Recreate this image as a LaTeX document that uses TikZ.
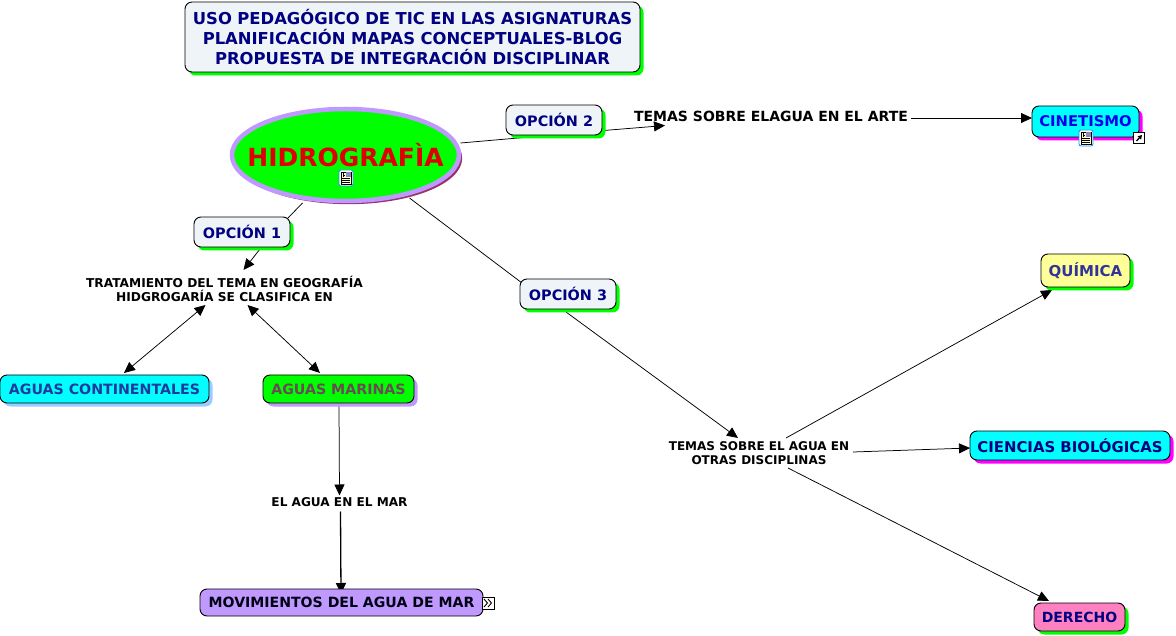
\documentclass[tikz,border=0pt]{standalone}
\usepackage{fontspec}
\setmainfont{DejaVu Sans}
\usetikzlibrary{arrows.meta,shapes.geometric,shadows,backgrounds}
\definecolor{navyt}{HTML}{000080}
\definecolor{boxbg}{HTML}{EEF4F8}
\definecolor{lime}{HTML}{00FF00}
\definecolor{cyanb}{HTML}{00FFFF}
\definecolor{magb}{HTML}{FF00FF}
\definecolor{lilac}{HTML}{C099FF}
\definecolor{skys}{HTML}{99CCFF}
\definecolor{acblue}{HTML}{1F3A9E}
\definecolor{ambrown}{HTML}{6B4A55}
\definecolor{quiblue}{HTML}{333399}
\definecolor{ciblue}{HTML}{0000EE}
\definecolor{hidsh}{HTML}{99336E}
\definecolor{hidred}{HTML}{E00000}
\definecolor{pinkb}{HTML}{FF80C0}
\definecolor{yelb}{HTML}{FFFF99}
\newcommand{\fs}[2]{\fontsize{#1}{#2}\selectfont\bfseries}
\tikzset{
  x=1pt,y=-1pt,
  boxn/.style={draw=black,line width=0.9pt,rounded corners=7pt,inner sep=0pt,align=center,
    font=\fs{14.2}{17}},
  shad/.style={drop shadow={shadow xshift=3.5pt,shadow yshift=-3.5pt,fill=#1,opacity=1}},
  phrase/.style={inner sep=0pt,align=center,text=black},
  conn/.style={line width=0.75pt,draw=black},
  arr/.style={conn,-{Triangle[length=11pt,width=10pt]}},
  barr/.style={conn,{Triangle[length=11pt,width=10pt]}-{Triangle[length=11pt,width=10pt]}},
  pics/docicon/.style={code={
    \draw[draw=blue!40!cyan!80!gray,fill=white,line width=0.8pt,rounded corners=2pt] (-7,-8) rectangle (7,8);
    \draw[black,fill=yelb!50!white,line width=0.6pt] (-5,-6) rectangle (5,6);
    \fill[blue!30!gray!70] (0,-5.5) rectangle (4.5,-1);
    \draw[black,line width=0.6pt] (-4,0) -- (4,0) (-4,2) -- (4,2) (-4,4) -- (4,4) (-3,-5)--(-3,-1) (-3,-3)--(-1,-3);
  }},
  pics/linkicon/.style={code={
    \draw[black,fill=white,line width=0.9pt] (-5.5,-5.5) rectangle (5.5,5.5);
    \draw[black,line width=1.3pt,-{Triangle[length=4pt,width=4.5pt]}] (-2.5,3) -- (3,-3);
  }},
  pics/moreicon/.style={code={
    \draw[black,fill=white,line width=0.7pt] (-6,-6) rectangle (6,6);
    \draw[black,line width=0.9pt] (-4,-4) -- (-0.5,0) -- (-4,4) (0,-4) -- (3.5,0) -- (0,4);
  }},
}
\begin{document}
\begin{tikzpicture}
\useasboundingbox (0,0) rectangle (1176,636);
\node[boxn,shad=lime,fill=boxbg,text=navyt,minimum width=455pt,minimum height=70pt,font=\fs{16.4}{20.2},
  text width=455pt] (title) at (412.5,37) {USO PEDAGÓGICO DE TIC EN LAS ASIGNATURAS\\PLANIFICACIÓN MAPAS CONCEPTUALES-BLOG\\PROPUESTA DE INTEGRACIÓN DISCIPLINAR};

\node[ellipse,draw=lilac,line width=4.5pt,fill=lime,inner sep=0pt,minimum width=227pt,minimum height=92pt,
  drop shadow={shadow xshift=3.2pt,shadow yshift=-3.2pt,fill=hidsh,opacity=1},
  text=hidred,font=\fs{25}{30}] (hid) at (345.5,155) {\makebox[0pt][c]{HIDROGRAFÌA}};
\pic at (346,178) {docicon};

\node[boxn,shad=lime,fill=boxbg,text=navyt,minimum width=96pt,minimum height=30pt,font=\fs{14.4}{17}] (op2) at (554,120) {OPCIÓN 2};
\node[boxn,shad=lime,fill=boxbg,text=navyt,minimum width=96pt,minimum height=30pt,font=\fs{14.4}{17}] (op1) at (242,232) {OPCIÓN 1};
\node[boxn,shad=lime,fill=boxbg,text=navyt,minimum width=96pt,minimum height=30pt,font=\fs{14.4}{17}] (op3) at (568,294) {OPCIÓN 3};

\node[phrase,font=\fs{14}{17}] (t2) at (771,116.5) {TEMAS SOBRE ELAGUA EN EL ARTE};
\node[phrase,font=\fs{12.2}{14}] (trat) at (224.5,289) {TRATAMIENTO DEL TEMA EN GEOGRAFÍA\\HIDGROGARÍA SE CLASIFICA EN};
\node[phrase,font=\fs{12}{14}] (t3) at (759,453) {TEMAS SOBRE EL AGUA EN\\OTRAS DISCIPLINAS};
\node[phrase,font=\fs{12.1}{14}] (agua) at (339.5,502.5) {EL AGUA EN EL MAR};

\node[boxn,shad=skys,fill=cyanb,text=acblue,minimum width=209pt,minimum height=28pt] (ac) at (104.5,389) {AGUAS CONTINENTALES};
\node[boxn,shad=lilac,fill=lime,text=ambrown,minimum width=151pt,minimum height=28pt] (am) at (338.5,389) {AGUAS MARINAS};
\node[boxn,fill=lilac,text=black!85!navyt,minimum width=283pt,minimum height=27pt,font=\fs{14.1}{17}] (mov) at (341.5,602.5) {MOVIMIENTOS DEL AGUA DE MAR};
\pic at (488,603) {moreicon};

\node[boxn,shad=magb,fill=cyanb,text=ciblue,minimum width=107pt,minimum height=31pt,font=\fs{14.8}{17}] (cin) at (1085.5,121.5) {CINETISMO};
\pic at (1086,138) {docicon};
\pic at (1139,138) {linkicon};
\node[boxn,shad=lime,fill=yelb,text=quiblue,minimum width=89pt,minimum height=33pt,font=\fs{15}{17}] (qui) at (1085.5,270.5) {QUÍMICA};
\node[boxn,shad=magb,fill=cyanb,text=navyt,minimum width=200pt,minimum height=29pt,font=\fs{14.9}{17}] (cie) at (1070,445.5) {CIENCIAS BIOLÓGICAS};
\node[boxn,shad=lime,fill=pinkb,text=navyt,minimum width=91pt,minimum height=28pt,font=\fs{14}{17}] (der) at (1079.5,617) {DERECHO};

\begin{scope}[on background layer]
\draw[conn] ([shift={(-43,48)}]hid.center) -- ([shift={(46,-14)}]op1.center);
\draw[arr] ([shift={(18,17)}]op1.center) -- ([shift={(19,-19)}]trat.center);
\draw[barr] ([shift={(-19,16)}]trat.center) -- ([shift={(19.5,-16)}]ac.center);
\draw[barr] ([shift={(23,16)}]trat.center) -- ([shift={(-18.5,-16)}]am.center);
\draw[arr] ([shift={(0.5,16)}]am.center) -- ([shift={(0,-7)}]agua.center);
\draw[arr,line width=1.3pt] ([shift={(1,9)}]agua.center) -- ([shift={(-0.5,-8.5)}]mov.center);
\draw[conn] ([shift={(115,-12)}]hid.center) -- ([shift={(-30,17.5)}]op2.center);
\draw[arr] ([shift={(40,11.3)}]op2.center) -- ([shift={(-106,9)}]t2.center);
\draw[conn] ([shift={(64,43)}]hid.center) -- ([shift={(-46,-11)}]op3.center);
\draw[arr] ([shift={(-2,18)}]op3.center) -- ([shift={(-21,-15)}]t3.center);
\draw[arr] ([shift={(140,1.5)}]t2.center) -- ([shift={(-53.5,-3.5)}]cin.center);
\draw[arr] ([shift={(27,-15)}]t3.center) -- ([shift={(-33.5,19.5)}]qui.center);
\draw[arr] ([shift={(94,-1)}]t3.center) -- ([shift={(-100,2.5)}]cie.center);
\draw[arr] ([shift={(29,15)}]t3.center) -- ([shift={(-30.5,-16)}]der.center);
\end{scope}
\end{tikzpicture}
\end{document}
